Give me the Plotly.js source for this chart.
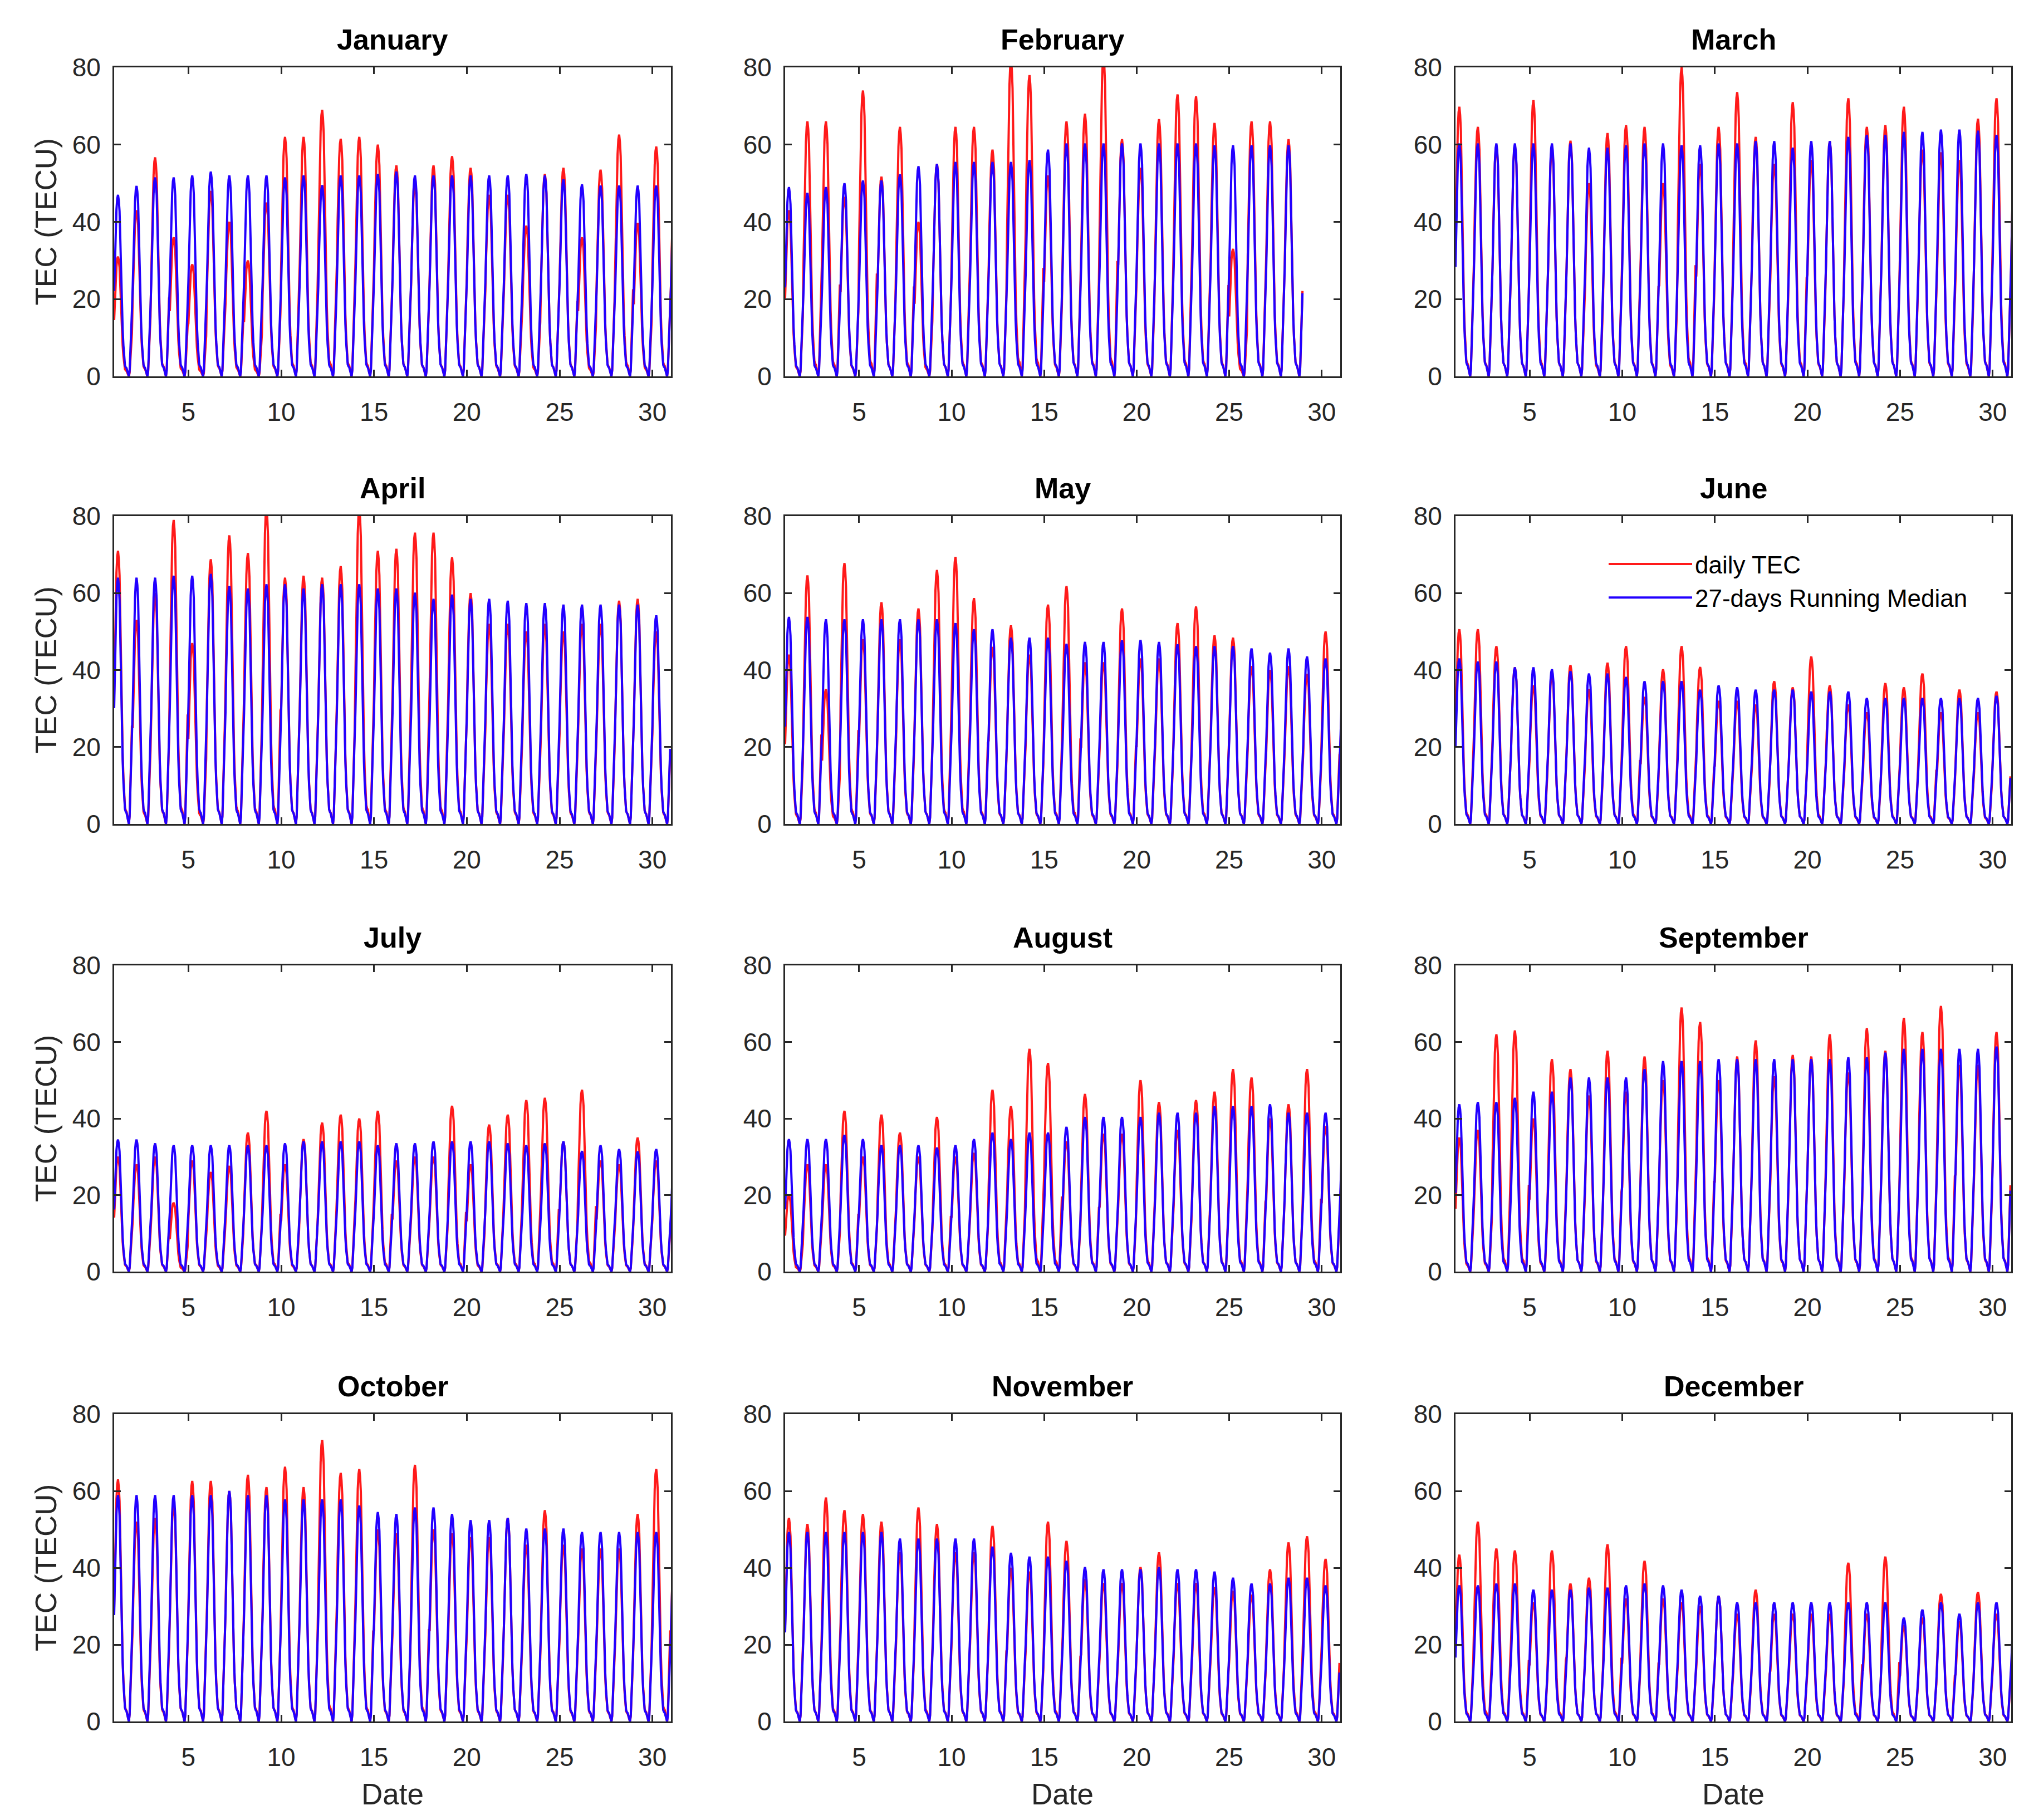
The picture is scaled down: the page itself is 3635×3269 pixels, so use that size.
<!DOCTYPE html>
<html>
<head>
<meta charset="utf-8">
<script src="https://cdn.plot.ly/plotly-3.0.1.min.js"></script>
<style>
html,body{margin:0;padding:0;background:#ffffff;}
#chart{width:3635px;height:3269px;}
</style>
</head>
<body>
<div id="chart"></div>
<script>
// ---------------- data ----------------
const monthNames = ['January','February','March','April','May','June',
                    'July','August','September','October','November','December'];

// normalised diurnal course of TEC, hourly (00..23 UT)
const diurnalShape = [0.47,0.66,0.82,0.92,0.98,1.00,0.97,0.91,0.75,0.55,0.40,0.26,
                      0.17,0.10,0.06,0.05,0.045,0.03,0.01,0.00,0.03,0.12,0.25,0.36];

// daily maximum of the daily TEC (red) and of the 27-days running median (blue), TECU
const janTEC    = [31,43,56.7,36,29,48,40,30,45,62,62,69,61.5,62,60,54.6,50,54.6,57,54,47,47,39,52.4,54,36,53.5,62.6,39.7,59.5,50];
const janMedian = [47,49.3,51.5,51.5,52,53,52,52,52,51.5,52,49.5,52,52,52.4,53,52,52,52,52,52,52,52.4,52,51,49.7,49.4,49.4,49.4,49.4,49.4];

const febTEC    = [43,66,66,46.5,74,51.7,64.6,40,55,64.6,64.6,58.7,82,78,52,66,68,83,61.4,54,66.6,73,72.5,65.6,33,66,66,61.4];
const febMedian = [49,47.5,49,50,50.7,50.7,52.3,54.4,55,55.5,55.5,55.5,55.5,56,58.7,60.3,60.3,60.3,60.3,60.3,60.3,60.3,60.3,59.8,59.8,59.8,59.8,59.8];

const marTEC    = [69.8,64.6,59.8,59.8,71.5,59,61,50,63,65,64.6,50,80,55,64.6,73.6,62,55,71,56,60.9,72,64.6,65,69.8,58.7,58,56,66.7,72,60];
const marMedian = [60.3,60.3,60.3,60.3,60.3,60.3,60.3,59.2,59.2,59.8,60.3,60.3,59.8,59.8,60.3,60.3,60.9,60.9,59.2,60.9,60.9,62,62.5,62.5,63.3,63.3,63.9,63.9,63.6,62.5,62.5];

const aprTEC    = [71,53,60,79,47,68.8,75,70.4,82,64,64.5,64,67,82,71,71.5,75.7,75.7,69.3,60,52,52,50,52,50,52,52,58,58.5,50];
const aprMedian = [64,64,64,64.5,64.5,65,61.8,61.2,62.3,62.3,61.2,62.3,62.3,62.3,61.2,61.2,60.1,58.5,59.6,58.5,58.5,58,57.4,57.4,57,57,57,57,57,54.2];

const mayTEC    = [44,64.6,35,67.8,48,57.6,48,56,66,69.4,58.7,46,51.6,44,57,61.8,42,42,56,43,43,52.2,56.5,49,48.4,41,40,41,39,50,40];
const mayMedian = [53.8,53.8,53.2,53.2,53.2,53.2,53.2,53.2,53.2,52.2,50.6,50.6,48.4,48.4,48.4,46.8,47.3,47.3,47.7,47.8,47.3,46.7,46.2,46.2,46.2,45.6,44.5,45.6,43.5,43,43];

const junTEC    = [50.6,50.6,46.2,40.7,36,39,41.3,35,41.9,46.2,33,40.2,46.2,40.8,32,32,31,37.1,35.5,43.5,36,31,29,36.6,35.5,39.1,29,34.9,29,34.4];
const junMedian = [43,42.2,42.2,40.7,40.7,40.2,39.7,39.1,39.1,38.2,37.1,37.1,37.1,34.9,36,35.5,34.9,34.9,34.9,34.4,34.4,34.4,32.7,32.7,32.7,32.7,32.7,32.7,32.7,33.3];

const julTEC    = [30,28,30,18,29,26,27.6,36.3,42,28,34.6,38.9,41,40,42,29,30,30,43.3,28,38.4,41,44.8,45.4,34,47.5,29,28,35,29,29];
const julMedian = [34.5,34.5,33.5,33,33,33,33,33,33,33.5,34,34,34,34,33,33.5,33.5,34,34,34,34,33.5,33,33.5,34,31.5,33,32,31.4,32,32];

const augTEC    = [20,28,28,42,30,41,36.3,30,40.4,30,31,47.5,43.2,58.2,54.5,34,46.4,36,36,50,44.3,37,44.8,47,52.9,50.7,40,43.7,52.9,38,38];
const augMedian = [34.6,34.6,34.6,35.7,34.6,33,33,33,32.4,33,34.6,36.3,34.6,36.3,36.3,37.8,40.4,40.4,40.4,40.4,41.5,41.5,41.5,43.2,43.2,43.2,43.7,41.5,41.5,41.5,41.5];

const sepTEC    = [35,37,62,63,40,55.5,52.9,46,57.7,47,56.2,50,69,65.2,50,56.2,60.4,51,56.6,56.2,62,52,63.6,57.7,66.3,62.6,69.4,54,54,62.6];
const sepMedian = [43.7,44.3,44.3,45.4,47,47,50.7,50.7,50.7,50.7,52.9,55,55,55,55.5,55.5,55.5,55.5,55.5,55.5,55.5,56,56,57.2,58.2,58.2,58.2,58.2,58.2,58.8];

const octTEC    = [63,52,53,56.7,62.6,62.6,60,64.2,61,66.3,61,73.3,64.7,65.7,50,49,66.8,50,49,48,48,53,46,55,46,45,45,45,54,65.7,50];
const octMedian = [58.9,58.9,58.9,58.9,58.9,58.9,60,58.9,58.9,57.8,57.8,57.8,57.8,56.2,54.5,54,55.7,55.7,54,52.4,52.4,53,50.2,50.2,50.2,49.3,49.3,49.3,49.3,49.3,49.3];

const novTEC    = [53,51.4,58.3,55,54,52,44,55.7,51.4,44,44,50.9,40,39,52,47,37,36,36,40.2,44,36,36,35,34,33,39.6,46.6,48.2,42.3];
const novMedian = [49.3,49.3,49.3,49.3,49.3,49.3,47.6,47.6,47.6,47.6,47.6,45.5,43.9,42.9,42.9,41.8,40.2,39.6,39.6,39.6,40.2,39.6,39.6,39,37.4,35.9,35.9,37.4,37.4,35.4];

const decTEC    = [43.4,52,45,44.5,31,44.5,35.9,37.4,46.1,32,41.8,32,31,30,32.7,28,34.3,28,28,28,28,41.3,28,42.9,25,27,33.2,26,33.7,28,28];
const decMedian = [35.4,35.4,35.9,35.9,34.3,34.3,34.3,34.8,34.8,35.4,35.9,35.4,34.3,32.7,32.7,31,31,31,31,31,31,31,31,31,27,29.1,31,28,31,31,31];

const tecByMonth    = [janTEC,febTEC,marTEC,aprTEC,mayTEC,junTEC,julTEC,augTEC,sepTEC,octTEC,novTEC,decTEC];
const medianByMonth = [janMedian,febMedian,marMedian,aprMedian,mayMedian,junMedian,julMedian,augMedian,sepMedian,octMedian,novMedian,decMedian];

const xTickVals = [5,10,15,20,25,30];
const yTickVals = [0,20,40,60,80];
const seriesNames = ['daily TEC','27-days Running Median'];

// ---------------- layout geometry (pixels of the 3635x3269 figure) ----------------
const W = 3635, H = 3269;
const colPx = [[205,1205],[1410,2407],[2614,3612]];
const rowPx = [[121,676],[927,1480],[1734,2284],[2540,3092]];
const FONT = 'Liberation Sans, Arial, Helvetica, sans-serif';
const RED = '#ff1a1a', BLUE = '#2200ff', AX = '#262626';

function hourlySeries(dailyPeaks){
  const x = [], y = [];
  dailyPeaks.forEach((p, i) => {
    diurnalShape.forEach((s, h) => { x.push(i + 1 + h/24); y.push(p * s); });
  });
  return {x, y};
}

const traces = [];
const layout = {
  width: W, height: H,
  margin: {l:0, r:0, t:0, b:0},
  paper_bgcolor: '#ffffff', plot_bgcolor: '#ffffff',
  showlegend: true,
  legend: {
    x: 2884/W, y: 1 - 978/H, xanchor: 'left', yanchor: 'top',
    bgcolor: 'rgba(0,0,0,0)', borderwidth: 0,
    font: {family: FONT, size: 44, color: '#000'},
    itemwidth: 150, tracegroupgap: 0
  },
  annotations: []
};

for (let i = 0; i < 12; i++) {
  const r = Math.floor(i/3), c = i % 3, k = i + 1;
  const xa = 'xaxis' + (k === 1 ? '' : k), ya = 'yaxis' + (k === 1 ? '' : k);
  const xr = 'x' + (k === 1 ? '' : k), yr = 'y' + (k === 1 ? '' : k);
  const common = {
    showline: true, mirror: 'ticks', linecolor: AX, linewidth: 3,
    ticks: 'inside', ticklen: 12, tickwidth: 3, tickcolor: AX,
    showgrid: false, zeroline: false, fixedrange: true,
    tickfont: {family: FONT, size: 46, color: AX}
  };
  layout[xa] = Object.assign({}, common, {
    domain: [colPx[c][0]/W, colPx[c][1]/W], anchor: yr,
    range: [1, 31], tickmode: 'array', tickvals: xTickVals, ticklabelstandoff: 22
  });
  layout[ya] = Object.assign({}, common, {
    domain: [1 - rowPx[r][1]/H, 1 - rowPx[r][0]/H], anchor: xr,
    range: [0, 80], tickmode: 'array', tickvals: yTickVals, ticklabelstandoff: 12
  });

  const tec = hourlySeries(tecByMonth[i]);
  const med = hourlySeries(medianByMonth[i]);
  traces.push({type:'scatter', mode:'lines', x: tec.x, y: tec.y, xaxis: xr, yaxis: yr,
    name: seriesNames[0], line: {color: RED, width: 4}, showlegend: i === 5, hoverinfo:'skip'});
  traces.push({type:'scatter', mode:'lines', x: med.x, y: med.y, xaxis: xr, yaxis: yr,
    name: seriesNames[1], line: {color: BLUE, width: 4}, showlegend: i === 5, hoverinfo:'skip'});

  // panel title
  layout.annotations.push({
    text: '<b>' + monthNames[i] + '</b>', xref: 'paper', yref: 'paper',
    x: (colPx[c][0] + colPx[c][1]) / 2 / W, y: 1 - (rowPx[r][0] - 50) / H,
    xanchor: 'center', yanchor: 'middle', showarrow: false,
    font: {family: FONT, size: 52, color: '#000'}
  });
  if (c === 0) {
    layout.annotations.push({
      text: 'TEC (TECU)', xref: 'paper', yref: 'paper', textangle: -90,
      x: 82 / W, y: 1 - (rowPx[r][0] + rowPx[r][1]) / 2 / H,
      xanchor: 'center', yanchor: 'middle', showarrow: false,
      font: {family: FONT, size: 53, color: AX}
    });
  }
  if (r === 3) {
    layout.annotations.push({
      text: 'Date', xref: 'paper', yref: 'paper',
      x: (colPx[c][0] + colPx[c][1]) / 2 / W, y: 1 - 3222 / H,
      xanchor: 'center', yanchor: 'middle', showarrow: false,
      font: {family: FONT, size: 53, color: AX}
    });
  }
}

Plotly.newPlot('chart', traces, layout, {staticPlot: true, displayModeBar: false});
</script>
</body>
</html>
